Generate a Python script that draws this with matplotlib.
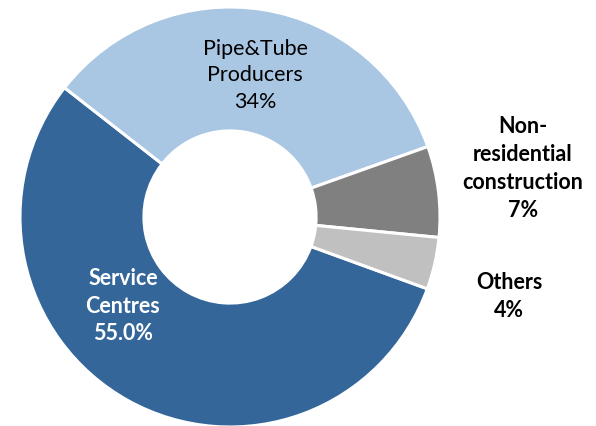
import matplotlib.pyplot as plt

# data
labels = ['Service\nCentres', 'Pipe&Tube\nProducers', 'Non-\nresidential\nconstruction', 'Others']
pct_text = ['55.0%', '34%', '7%', '4%']
shares = [55, 34, 7, 4]
colors = ['#34669A', '#A9C6E3', '#808080', '#C0C0C0']
text_colors = ['white', 'black', 'black', 'black']
text_weights = ['bold', 'normal', 'bold', 'bold']
# label centres in pie units (radius = 1)
label_pos = [(-0.51, -0.42), (0.12, 0.68), (1.395, 0.235), (1.33, -0.375)]

plt.rcParams['font.family'] = ['Lato', 'DejaVu Sans']

fig = plt.figure(figsize=(5.96, 4.27), dpi=100)
ax = fig.add_axes([20/596, -1/427, 420/596, 420/427])
ax.pie(shares, colors=colors, startangle=-20, counterclock=False,
       wedgeprops=dict(width=0.59, edgecolor='white', linewidth=2.2))
ax.set_xlim(-1, 1)
ax.set_ylim(-1, 1)

for lab, p, pos, c, w in zip(labels, pct_text, label_pos, text_colors, text_weights):
    ax.text(pos[0], pos[1], lab + '\n' + p, ha='center', va='center',
            fontsize=15.5, color=c, fontweight=w, linespacing=1.4)

fig.savefig('out.png', dpi=100)
